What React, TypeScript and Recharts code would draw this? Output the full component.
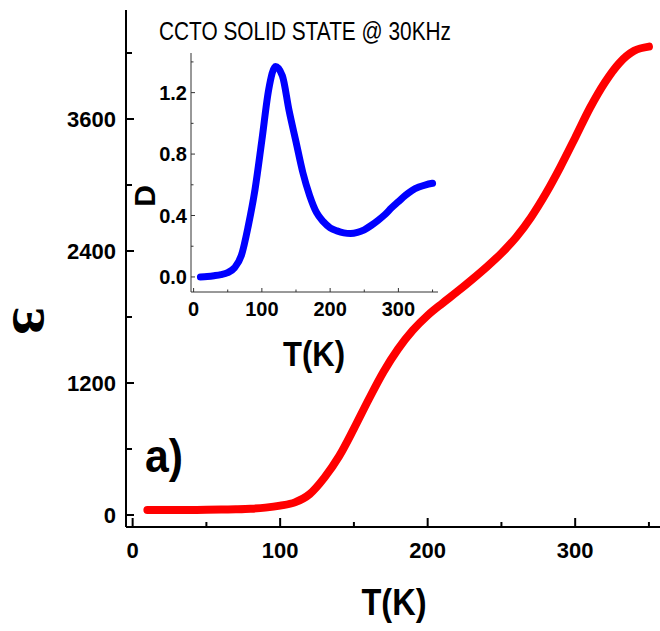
import React from 'react';
import { LineChart, Line, XAxis, YAxis } from 'recharts';

// temperature grid (K), shared by both curves
const temps = [
  10, 20, 30, 40, 50, 60, 70, 80, 90, 100, 110, 120, 130, 140, 150, 160, 170, 180,
  190, 200, 210, 220, 230, 240, 250, 260, 270, 280, 290, 300, 310, 320, 330, 340, 350,
];

// dielectric constant (main panel, red)
const permittivity = [
  45, 45, 45, 46, 47, 49, 52, 57, 67, 85, 115, 190, 340, 535, 785, 1050, 1300, 1510,
  1680, 1815, 1925, 2030, 2140, 2255, 2380, 2525, 2705, 2920, 3165, 3430, 3700, 3930, 4110, 4220, 4258,
];

// loss tangent D (inset, blue)
const lossD = [
  0.0, 0.003, 0.008, 0.015, 0.028, 0.06, 0.14, 0.33, 0.57, 0.89, 1.22, 1.37, 1.31, 1.08, 0.88, 0.68, 0.53, 0.42,
  0.36, 0.32, 0.3, 0.287, 0.283, 0.29, 0.307, 0.335, 0.368, 0.405, 0.45, 0.49, 0.53, 0.563, 0.585, 0.6, 0.61,
];

const mainXTicks = [0, 50, 100, 150, 200, 250, 300, 350];
const mainYTicks = [0, 600, 1200, 1800, 2400, 3000, 3600, 4200];
const insetXTicks = [0, 50, 100, 150, 200, 250, 300, 350];
const insetYTicks = [0, 0.2, 0.4, 0.6, 0.8, 1.0, 1.2, 1.4];

const mainData = temps.map((t, i) => ({ t, eps: permittivity[i] }));
const insetData = temps.map((t, i) => ({ t, d: lossD[i] }));

const sans = '"Liberation Sans", Arial, sans-serif';

const MainXTick = ({ x, y, payload }: any) => {
  const major = payload.value % 100 === 0;
  return (
    <g>
      <line x1={x} x2={x} y1={y} y2={y - (major ? 9 : 5)} stroke="#000" strokeWidth={2} />
      {major && (
        <text x={x} y={y + 23} textAnchor="middle" dominantBaseline="central"
          fontFamily={sans} fontWeight="bold" fontSize={22} fill="#000">
          {payload.value}
        </text>
      )}
    </g>
  );
};

const MainYTick = ({ x, y, payload }: any) => {
  const major = payload.value % 1200 === 0;
  return (
    <g>
      <line x1={x} x2={x + (major ? 8 : 6)} y1={y} y2={y} stroke="#000" strokeWidth={2} />
      {major && (
        <text x={x - 10} y={y} textAnchor="end" dominantBaseline="central"
          fontFamily={sans} fontWeight="bold" fontSize={22} fill="#000">
          {payload.value}
        </text>
      )}
    </g>
  );
};

const InsetXTick = ({ x, y, payload }: any) => {
  const major = payload.value % 100 === 0;
  return (
    <g>
      <line x1={x} x2={x} y1={y} y2={y - (major ? 4 : 2.5)} stroke="#333" strokeWidth={1} />
      {major && (
        <text x={x} y={y + 17} textAnchor="middle" dominantBaseline="central"
          fontFamily={sans} fontWeight="bold" fontSize={20} fill="#000">
          {payload.value}
        </text>
      )}
    </g>
  );
};

const InsetYTick = ({ x, y, payload }: any) => {
  const major = Math.round(payload.value * 10) % 4 === 0;
  return (
    <g>
      <line x1={x} x2={x + (major ? 4 : 2.5)} y1={y} y2={y} stroke="#333" strokeWidth={1} />
      {major && (
        <text x={x - 4} y={y} textAnchor="end" dominantBaseline="central"
          fontFamily={sans} fontWeight="bold" fontSize={20} fill="#000">
          {payload.value.toFixed(1)}
        </text>
      )}
    </g>
  );
};

export default function App() {
  return (
    <div style={{ position: 'absolute', left: 0, top: 0, width: 660, height: 631, background: '#fff' }}>
      {/* main panel: epsilon vs T */}
      <div style={{ position: 'absolute', left: 0, top: 0 }}>
        <LineChart width={660} height={631} data={mainData} margin={{ top: 10, right: 0, bottom: 0, left: 0 }}>
          <XAxis dataKey="t" type="number" domain={[-4.5, 357.5]} allowDataOverflow ticks={mainXTicks}
            interval={0} height={104} tickSize={0} tickMargin={0} tickLine={false}
            axisLine={{ stroke: '#000', strokeWidth: 2 }} tick={(p: any) => <MainXTick {...p} />} />
          <XAxis xAxisId="top" orientation="top" dataKey="t" type="number" domain={[-4.5, 357.5]}
            height={0} tick={false} tickLine={false} axisLine={{ stroke: '#000', strokeWidth: 2 }} />
          <YAxis type="number" domain={[-109, 4591]} allowDataOverflow ticks={mainYTicks} interval={0}
            width={126} tickSize={0} tickMargin={0} tickLine={false}
            axisLine={{ stroke: '#000', strokeWidth: 2 }} tick={(p: any) => <MainYTick {...p} />} />
          <Line type="monotone" dataKey="eps" stroke="#ff0000" strokeWidth={8} strokeLinecap="round"
            dot={false} isAnimationActive={false} />
        </LineChart>
      </div>

      {/* inset: D vs T */}
      <div style={{ position: 'absolute', left: 0, top: 0 }}>
        <LineChart width={660} height={631} data={insetData} margin={{ top: 53, right: 222, bottom: 259, left: 0 }}>
          <XAxis dataKey="t" type="number" domain={[-3.8, 358]} allowDataOverflow ticks={insetXTicks}
            interval={0} height={80} tickSize={0} tickMargin={0} tickLine={false}
            axisLine={{ stroke: '#333', strokeWidth: 1 }} tick={(p: any) => <InsetXTick {...p} />} />
          <XAxis xAxisId="top" orientation="top" dataKey="t" type="number" domain={[-3.8, 358]}
            height={0} tick={false} tickLine={false} axisLine={{ stroke: '#333', strokeWidth: 1 }} />
          <YAxis type="number" domain={[-0.098, 1.458]} allowDataOverflow ticks={insetYTicks} interval={0}
            width={191} tickSize={0} tickMargin={0} tickLine={false}
            axisLine={{ stroke: '#333', strokeWidth: 1 }} tick={(p: any) => <InsetYTick {...p} />} />
          <YAxis yAxisId="right" orientation="right" type="number" domain={[-0.098, 1.458]}
            width={0} tick={false} tickLine={false} axisLine={{ stroke: '#333', strokeWidth: 1 }} />
          <Line type="monotone" dataKey="d" stroke="#0000ff" strokeWidth={7} strokeLinecap="round"
            dot={false} isAnimationActive={false} />
        </LineChart>
      </div>

      {/* labels */}
      <svg width={660} height={631} style={{ position: 'absolute', left: 0, top: 0, pointerEvents: 'none' }}>
        <text x={159} y={40} fontFamily={sans} fontSize={25} fill="#000" textLength={292}
          lengthAdjust="spacingAndGlyphs">CCTO SOLID STATE @ 30KHz</text>
        <text x={314} y={366} textAnchor="middle" fontFamily={sans} fontWeight="bold" fontSize={35}
          fill="#000" textLength={62} lengthAdjust="spacingAndGlyphs">T(K)</text>
        <text transform="translate(144,196) rotate(-90)" x={0} y={11} textAnchor="middle" fontFamily={sans}
          fontWeight="bold" fontSize={30} fill="#000">D</text>
        <text x={394} y={615} textAnchor="middle" fontFamily={sans} fontWeight="bold" fontSize={37}
          fill="#000" textLength={65} lengthAdjust="spacingAndGlyphs">T(K)</text>
        <text x={145} y={472} fontFamily={sans} fontWeight="bold" fontSize={46} fill="#000"
          textLength={38} lengthAdjust="spacingAndGlyphs">a)</text>
        {/* epsilon axis title: turned so it reads like the original, baseline kept on the left */}
        <text transform="translate(14,321) rotate(-90) scale(1,-1)" x={0} y={0} textAnchor="middle"
          fontFamily='"Liberation Serif", "DejaVu Serif", serif' fontWeight="bold" fontSize={64} fill="#000">ε</text>
      </svg>
    </div>
  );
}
